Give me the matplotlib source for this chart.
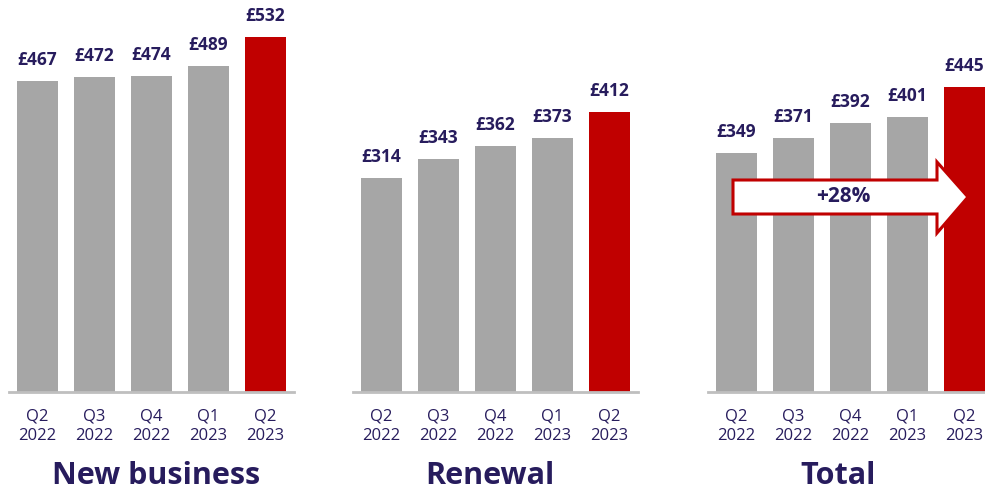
import matplotlib
matplotlib.use("Agg")
import matplotlib.pyplot as plt
from matplotlib.patches import Polygon

plt.rcParams['font.family'] = ['Open Sans', 'DejaVu Sans']

categories = ["Q2\n2022", "Q3\n2022", "Q4\n2022", "Q1\n2023", "Q2\n2023"]
new_business = [467, 472, 474, 489, 532]
renewal = [314, 343, 362, 373, 412]
total = [349, 371, 392, 401, 445]
panel_titles = ["New business", "Renewal", "Total"]
growth_label = "+28%"

GRAY = "#a6a6a6"
RED = "#c00000"
NAVY = "#271c5d"
AXIS = "#bfbfbf"

W, H = 985, 491
fig = plt.figure(figsize=(W / 100, H / 100), dpi=100)

base_px = 392
# (left px, right px, ymax)
panels = [
    (9, 294, 588, new_business),
    (353, 638, 576, renewal),
    (708, 985, 572, total),
]
title_x = [156, 490, 838]

pitch = 57.0
axes = []
for i, (lpx, rpx, ymax, vals) in enumerate(panels):
    ax = fig.add_axes([lpx / W, (H - base_px) / H, (rpx - lpx) / W, base_px / H])
    x = list(range(len(categories)))
    colors = [GRAY] * (len(vals) - 1) + [RED]
    ax.bar(x, vals, width=41 / pitch, color=colors, zorder=2)
    ax.set_xlim(-0.5, -0.5 + (rpx - lpx) / pitch)
    ax.set_ylim(0, ymax)
    for s in ["top", "left", "right"]:
        ax.spines[s].set_visible(False)
    ax.spines["bottom"].set_color(AXIS)
    ax.spines["bottom"].set_linewidth(2)
    ax.set_yticks([])
    ax.set_xticks(x)
    ax.set_xticklabels(categories, fontsize=12, color=NAVY, linespacing=1.25)
    ax.tick_params(axis="x", length=0, pad=12)
    for xi, v in zip(x, vals):
        ax.annotate(f"£{v}", (xi, v), xytext=(0, 11.5), textcoords="offset points",
                    ha="center", va="baseline", fontsize=12.5, fontweight="bold",
                    color=NAVY, annotation_clip=False)
    fig.text(title_x[i] / W, (H - 476) / H, panel_titles[i], ha="center", va="center",
             fontsize=22, fontweight="bold", color=NAVY)
    axes.append(ax)

# growth arrow on Total panel (pixel geometry converted to data coords)
ax = axes[2]
lpx = panels[2][0]
ymax = panels[2][2]
def to_data(px, py):
    return ((px - lpx) / pitch - 0.5, (base_px - py) / base_px * ymax)
pts_px = [(733, 180), (937, 180), (937, 162), (968, 197), (937, 233), (937, 214), (733, 214)]
pts = [to_data(px, py) for px, py in pts_px]
arrow = Polygon(pts, closed=True, facecolor="white", edgecolor=RED, linewidth=2.2,
                zorder=5, clip_on=False, joinstyle="miter")
ax.add_patch(arrow)
cx, cy = to_data(843, 197)
ax.text(cx, cy, growth_label, ha="center", va="center", fontsize=15, fontweight="bold",
        color=NAVY, zorder=6)

fig.savefig("out.png", dpi=100)
